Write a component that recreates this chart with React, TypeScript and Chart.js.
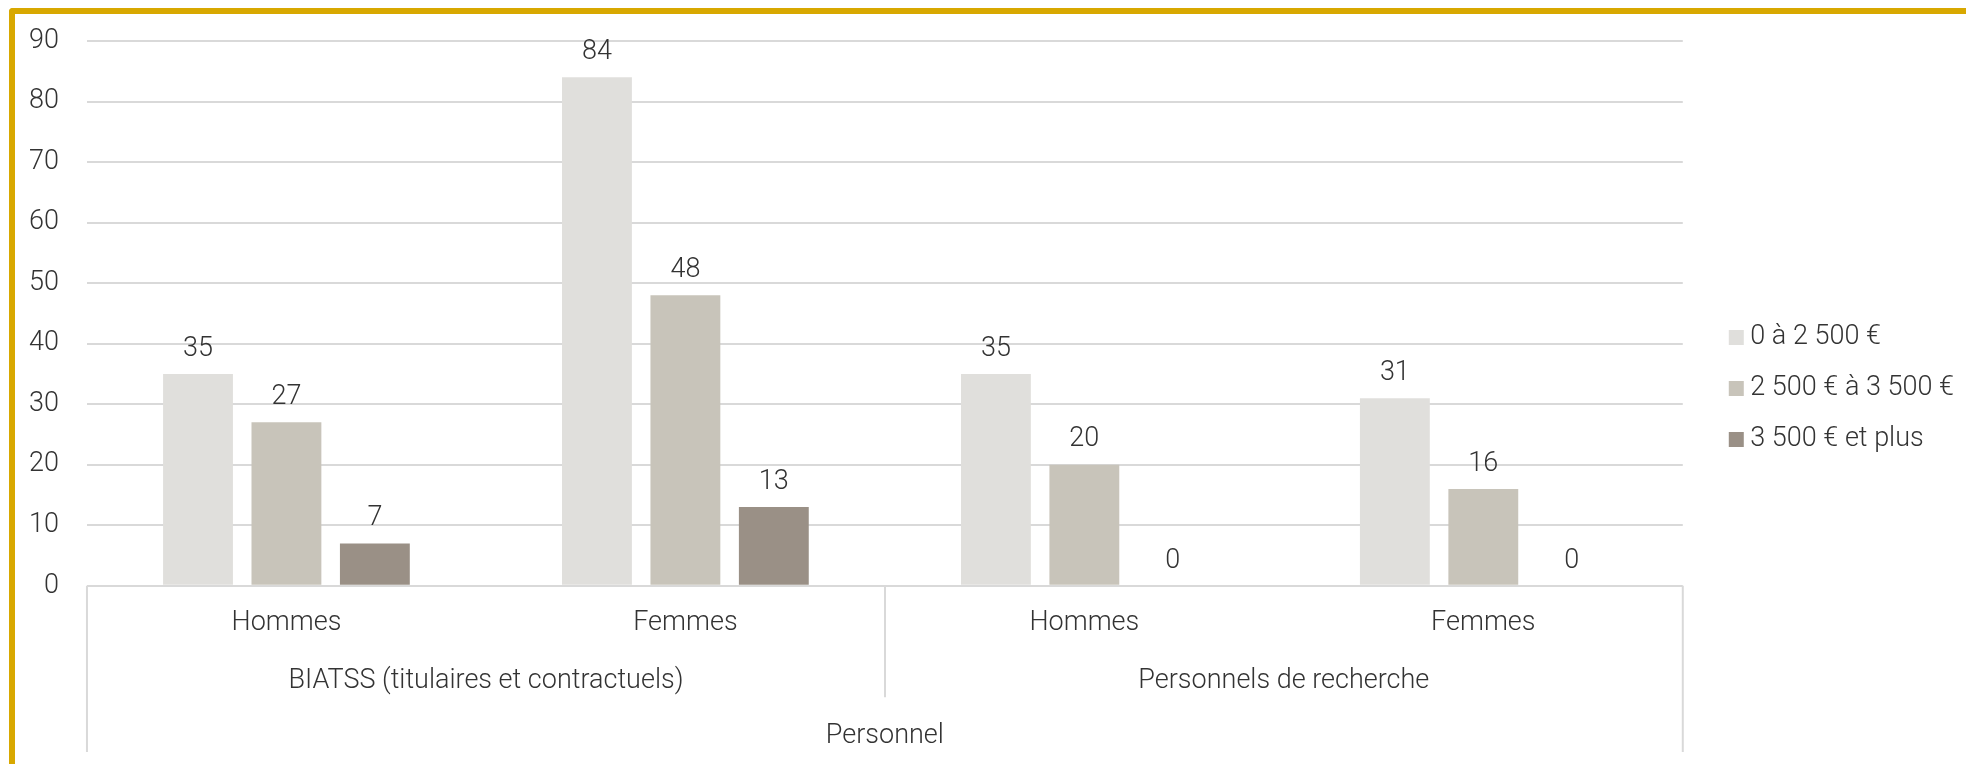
import React, { useEffect, useRef } from 'react';
import { Chart, registerables } from 'chart.js';

Chart.register(...registerables);

// ---- data ----
const categories = ['Hommes', 'Femmes', 'Hommes', 'Femmes'];
const groupLabels = ['BIATSS (titulaires et contractuels)', 'Personnels de recherche'];
const groupSizes = [2, 2];
const topLabels = ['Personnel'];
const seriesNames = ['0 à 2 500 €', '2 500 € à 3 500 €', '3 500 € et plus'];
const seriesLow = [35, 84, 35, 31];
const seriesMid = [27, 48, 20, 16];
const seriesHigh = [7, 13, 0, 0];
const yMin = 0;
const yMax = 90;
const yStep = 10;

// ---- styles ----
const COLORS = ['#E0DFDC', '#C8C4BA', '#9A9086'];
const GRID = '#D9D9D9';
const TEXT = '#333333';
const GOLD = '#D8A800';
const FONT_FAMILY = 'Roboto';
const FONT_SIZE = 27;
const font = { family: FONT_FAMILY, size: FONT_SIZE, weight: '300' as const };
const NONE = 'rgba(0,0,0,0)';

const valueLabels = {
  id: 'valueLabels',
  afterDatasetsDraw(chart: any) {
    const { ctx } = chart;
    ctx.save();
    ctx.font = `300 ${FONT_SIZE}px ${FONT_FAMILY}`;
    ctx.fillStyle = TEXT;
    ctx.textAlign = 'center';
    ctx.textBaseline = 'middle';
    chart.data.datasets.forEach((ds: any, i: number) => {
      const meta = chart.getDatasetMeta(i);
      meta.data.forEach((el: any, j: number) => {
        ctx.fillText(String(ds.data[j]), el.x, el.y - 25);
      });
    });
    ctx.restore();
  },
};

const dividers = {
  id: 'dividers',
  afterDraw(chart: any) {
    const { ctx, chartArea } = chart;
    const x = chart.scales.x;
    const x2 = chart.scales.x2;
    const x3 = chart.scales.x3;
    ctx.save();
    ctx.strokeStyle = GRID;
    ctx.lineWidth = 2;
    const top = chartArea.bottom;
    ctx.beginPath();
    ctx.moveTo(chartArea.left, top);
    ctx.lineTo(chartArea.left, x3.bottom);
    ctx.moveTo(chartArea.right, top);
    ctx.lineTo(chartArea.right, x3.bottom);
    let idx = 0;
    for (let g = 0; g < groupSizes.length - 1; g++) {
      idx += groupSizes[g];
      const px = Math.round(x.getPixelForValue(idx - 0.5));
      ctx.moveTo(px, top);
      ctx.lineTo(px, x2.bottom);
    }
    ctx.stroke();
    ctx.restore();
  },
};

export default function App() {
  const ref = useRef<HTMLCanvasElement>(null);

  useEffect(() => {
    if (!ref.current) return;
    const chart = new Chart(ref.current, {
      type: 'bar',
      data: {
        labels: categories,
        datasets: [
          { label: seriesNames[0], data: seriesLow, backgroundColor: COLORS[0] },
          { label: seriesNames[1], data: seriesMid, backgroundColor: COLORS[1] },
          { label: seriesNames[2], data: seriesHigh, backgroundColor: COLORS[2] },
        ],
      },
      options: {
        responsive: false,
        animation: false,
        devicePixelRatio: 1,
        datasets: { bar: { categoryPercentage: 0.665, barPercentage: 0.79 } },
        layout: { padding: { left: 3.2, top: 11, right: 2, bottom: 12 } },
        plugins: {
          tooltip: { enabled: false },
          legend: {
            position: 'right',
            align: 'center',
            labels: {
              usePointStyle: true,
              pointStyle: 'rect',
              boxWidth: 1,
              boxHeight: 15,
              padding: 24,
              color: TEXT,
              font,
            },
          },
        },
        scales: {
          y: {
            min: yMin,
            max: yMax,
            ticks: { stepSize: yStep, padding: 10.8, color: TEXT, font },
            grid: { color: GRID, lineWidth: 2, drawTicks: true, tickLength: 17.2, tickColor: NONE },
            border: { display: false },
          },
          yR: {
            type: 'linear',
            position: 'right',
            display: true,
            ticks: { display: false },
            grid: { display: false, drawTicks: true, tickLength: 29 },
            border: { display: false },
          },
          x: {
            type: 'category',
            position: 'bottom',
            weight: 0,
            grid: { display: false, drawTicks: true, tickLength: 4 },
            border: { display: false },
            ticks: { padding: 16.8, color: TEXT, font, maxRotation: 0, autoSkip: false },
          },
          x2: {
            type: 'category',
            labels: groupLabels,
            position: 'bottom',
            weight: 1,
            offset: true,
            grid: { display: false, drawTicks: true, tickLength: 9 },
            border: { display: false },
            ticks: { padding: 0, color: TEXT, font, maxRotation: 0, autoSkip: false },
          },
          x3: {
            type: 'category',
            labels: topLabels,
            position: 'bottom',
            weight: 2,
            offset: true,
            grid: { display: false, drawTicks: true, tickLength: 22.4 },
            border: { display: false },
            ticks: { padding: 0, color: TEXT, font, maxRotation: 0, autoSkip: false },
          },
        },
      },
      plugins: [valueLabels, dividers],
    });
    return () => chart.destroy();
  }, []);

  return (
    <div
      style={{
        position: 'fixed',
        left: 9,
        top: 8,
        width: 1951,
        height: 750,
        borderTop: `6px solid ${GOLD}`,
        borderLeft: `6px solid ${GOLD}`,
        borderTopLeftRadius: 4,
        background: '#fff',
        overflow: 'hidden',
      }}
    >
      <canvas ref={ref} width={1951} height={750} style={{ display: 'block' }} />
    </div>
  );
}
